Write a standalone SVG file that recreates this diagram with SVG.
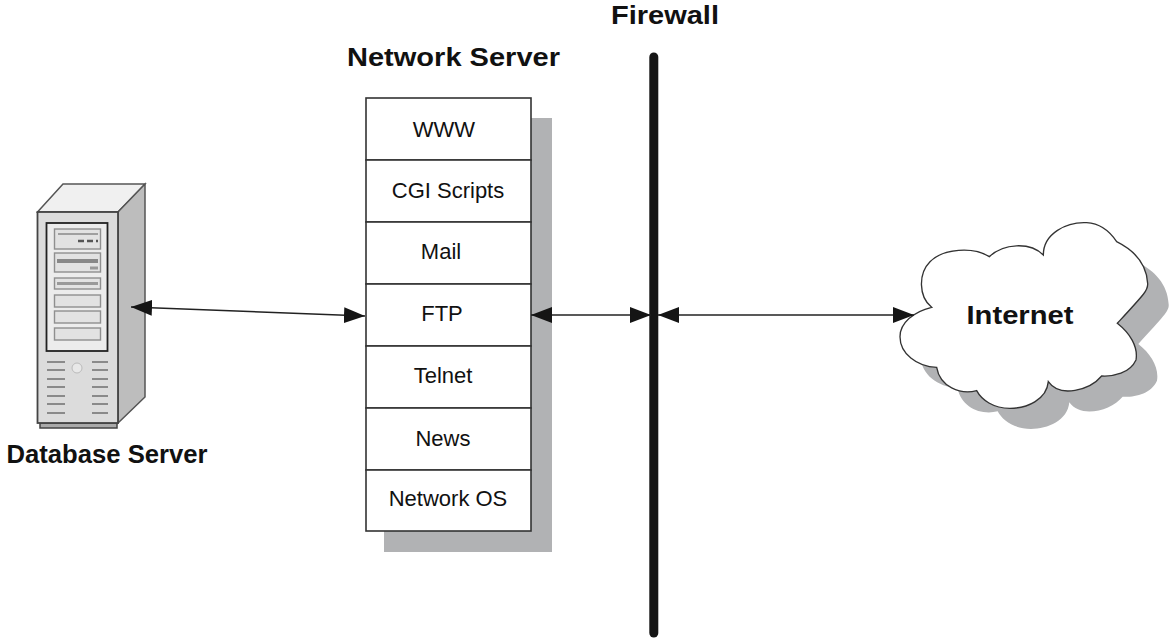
<svg xmlns="http://www.w3.org/2000/svg" width="1170" height="639" viewBox="0 0 1170 639">
<style>
text{font-family:"Liberation Sans",Arial,sans-serif;fill:#111;text-anchor:middle}
.t{font-size:22px}
.b{font-size:26px;font-weight:bold}
.row{fill:#fff;stroke:#333;stroke-width:1.6}
.conn{stroke:#222;stroke-width:1.6;fill:none;marker-start:url(#ah);marker-end:url(#ah)}
.bay{fill:#e2e2e2;stroke:#8f8f8f;stroke-width:1.4}
.v{stroke:#8a8a8a;stroke-width:2}
</style>
<defs>
<marker id="ah" viewBox="0 0 21 16" refX="21" refY="8" markerWidth="21" markerHeight="16" markerUnits="userSpaceOnUse" orient="auto-start-reverse"><path d="M0,0L21,8L0,16Z" fill="#151515"/></marker>
<path id="cloudShape" d="M155,322C115,290 115,220 150,185C190,145 280,140 328,170C370,130 450,125 490,165C490,100 560,65 620,68C660,70 690,95 710,125C760,150 800,190 803,250C805,270 795,280 712,370C750,400 775,440 768,480C750,520 700,530 665,528C630,570 540,595 505,545C500,600 440,625 390,625C340,625 305,600 290,572C240,585 180,560 170,502C110,500 60,460 60,410C60,370 100,335 155,322Z"/>
</defs>

<g id="firewall">
<line x1="653.8" y1="57" x2="653.8" y2="633" stroke="#151515" stroke-width="9" stroke-linecap="round"/>
<text class="b" x="665" y="24" textLength="108" lengthAdjust="spacingAndGlyphs">Firewall</text>
</g>

<g id="network-server">
<rect x="384" y="118" width="168" height="434" fill="#b1b2b4"/>
<rect class="row" x="366" y="98" width="165" height="62"/>
<rect class="row" x="366" y="160" width="165" height="62"/>
<rect class="row" x="366" y="222" width="165" height="62"/>
<rect class="row" x="366" y="284" width="165" height="62"/>
<rect class="row" x="366" y="346" width="165" height="62"/>
<rect class="row" x="366" y="408" width="165" height="62"/>
<rect class="row" x="366" y="470" width="165" height="61"/>
<text class="b" x="453.500" y="66" textLength="213" lengthAdjust="spacingAndGlyphs">Network Server</text>
<text class="t" x="444" y="137">WWW</text>
<text class="t" x="448" y="198">CGI Scripts</text>
<text class="t" x="441" y="259">Mail</text>
<text class="t" x="442" y="321">FTP</text>
<text class="t" x="443" y="383">Telnet</text>
<text class="t" x="443" y="446">News</text>
<text class="t" x="448" y="506">Network OS</text>
</g>

<g id="database-server">
<rect x="40" y="423" width="77" height="5" fill="#aaa" stroke="#444" stroke-width="1.5"/>
<path d="M37.500,212L63,184H145L118,212Z" fill="#f0f0f0" stroke="#555" stroke-width="1.500"/>
<path d="M118,212L145,184V397L118,423Z" fill="#bdbdbd" stroke="#555" stroke-width="1.500"/>
<rect x="37.500" y="212" width="80.500" height="211" fill="#dcdcdc" stroke="#444" stroke-width="1.800"/>
<rect x="46.500" y="223" width="61" height="128" fill="#ececec" stroke="#222" stroke-width="1.800"/>
<rect class="bay" x="54.500" y="229" width="46" height="20"/>
<rect class="bay" x="54.500" y="253" width="46" height="19"/>
<rect class="bay" x="54.500" y="278" width="46" height="11"/>
<rect class="bay" x="54.500" y="295" width="46" height="12"/>
<rect class="bay" x="54.500" y="311" width="46" height="12"/>
<rect class="bay" x="54.500" y="328" width="46" height="12"/>
<line x1="58" y1="234" x2="98" y2="234" stroke="#888" stroke-width="1.500"/>
<line x1="78" y1="241" x2="98" y2="241" stroke="#555" stroke-width="2.500" stroke-dasharray="6 3"/>
<line x1="57" y1="261" x2="98" y2="261" stroke="#888" stroke-width="4"/>
<line x1="90" y1="268" x2="98" y2="268" stroke="#999" stroke-width="3"/>
<line x1="57" y1="283.500" x2="98" y2="283.500" stroke="#999" stroke-width="3"/>
<g class="v">
<line x1="47" y1="362" x2="65" y2="362"/><line x1="92" y1="362" x2="108" y2="362"/>
<line x1="47" y1="370" x2="65" y2="370"/><line x1="92" y1="370" x2="108" y2="370"/>
<line x1="47" y1="379" x2="65" y2="379"/><line x1="92" y1="379" x2="108" y2="379"/>
<line x1="47" y1="387" x2="65" y2="387"/><line x1="92" y1="387" x2="108" y2="387"/>
<line x1="47" y1="396" x2="65" y2="396"/><line x1="92" y1="396" x2="108" y2="396"/>
<line x1="47" y1="404" x2="65" y2="404"/><line x1="92" y1="404" x2="108" y2="404"/>
<line x1="47" y1="413" x2="65" y2="413"/><line x1="92" y1="413" x2="108" y2="413"/>
</g>
<circle cx="77" cy="368" r="5" fill="#e8e8e8" stroke="#bbb"/>
<text class="b" x="107" y="463" textLength="201" lengthAdjust="spacingAndGlyphs">Database Server</text>
</g>

<g id="internet">
<g transform="translate(880 200) scale(.3333)">
<use href="#cloudShape" transform="translate(63 62)" fill="#b1b2b4"/>
<use href="#cloudShape" fill="#fff" stroke="#333" stroke-width="4"/>
</g>
<text class="b" x="1020" y="324" textLength="107" lengthAdjust="spacingAndGlyphs">Internet</text>
</g>

<g id="connectors">
<line class="conn" x1="131" y1="307" x2="365" y2="316"/>
<line class="conn" x1="531" y1="315" x2="651" y2="315"/>
<line class="conn" x1="658" y1="315" x2="914" y2="315"/>
</g>
</svg>
